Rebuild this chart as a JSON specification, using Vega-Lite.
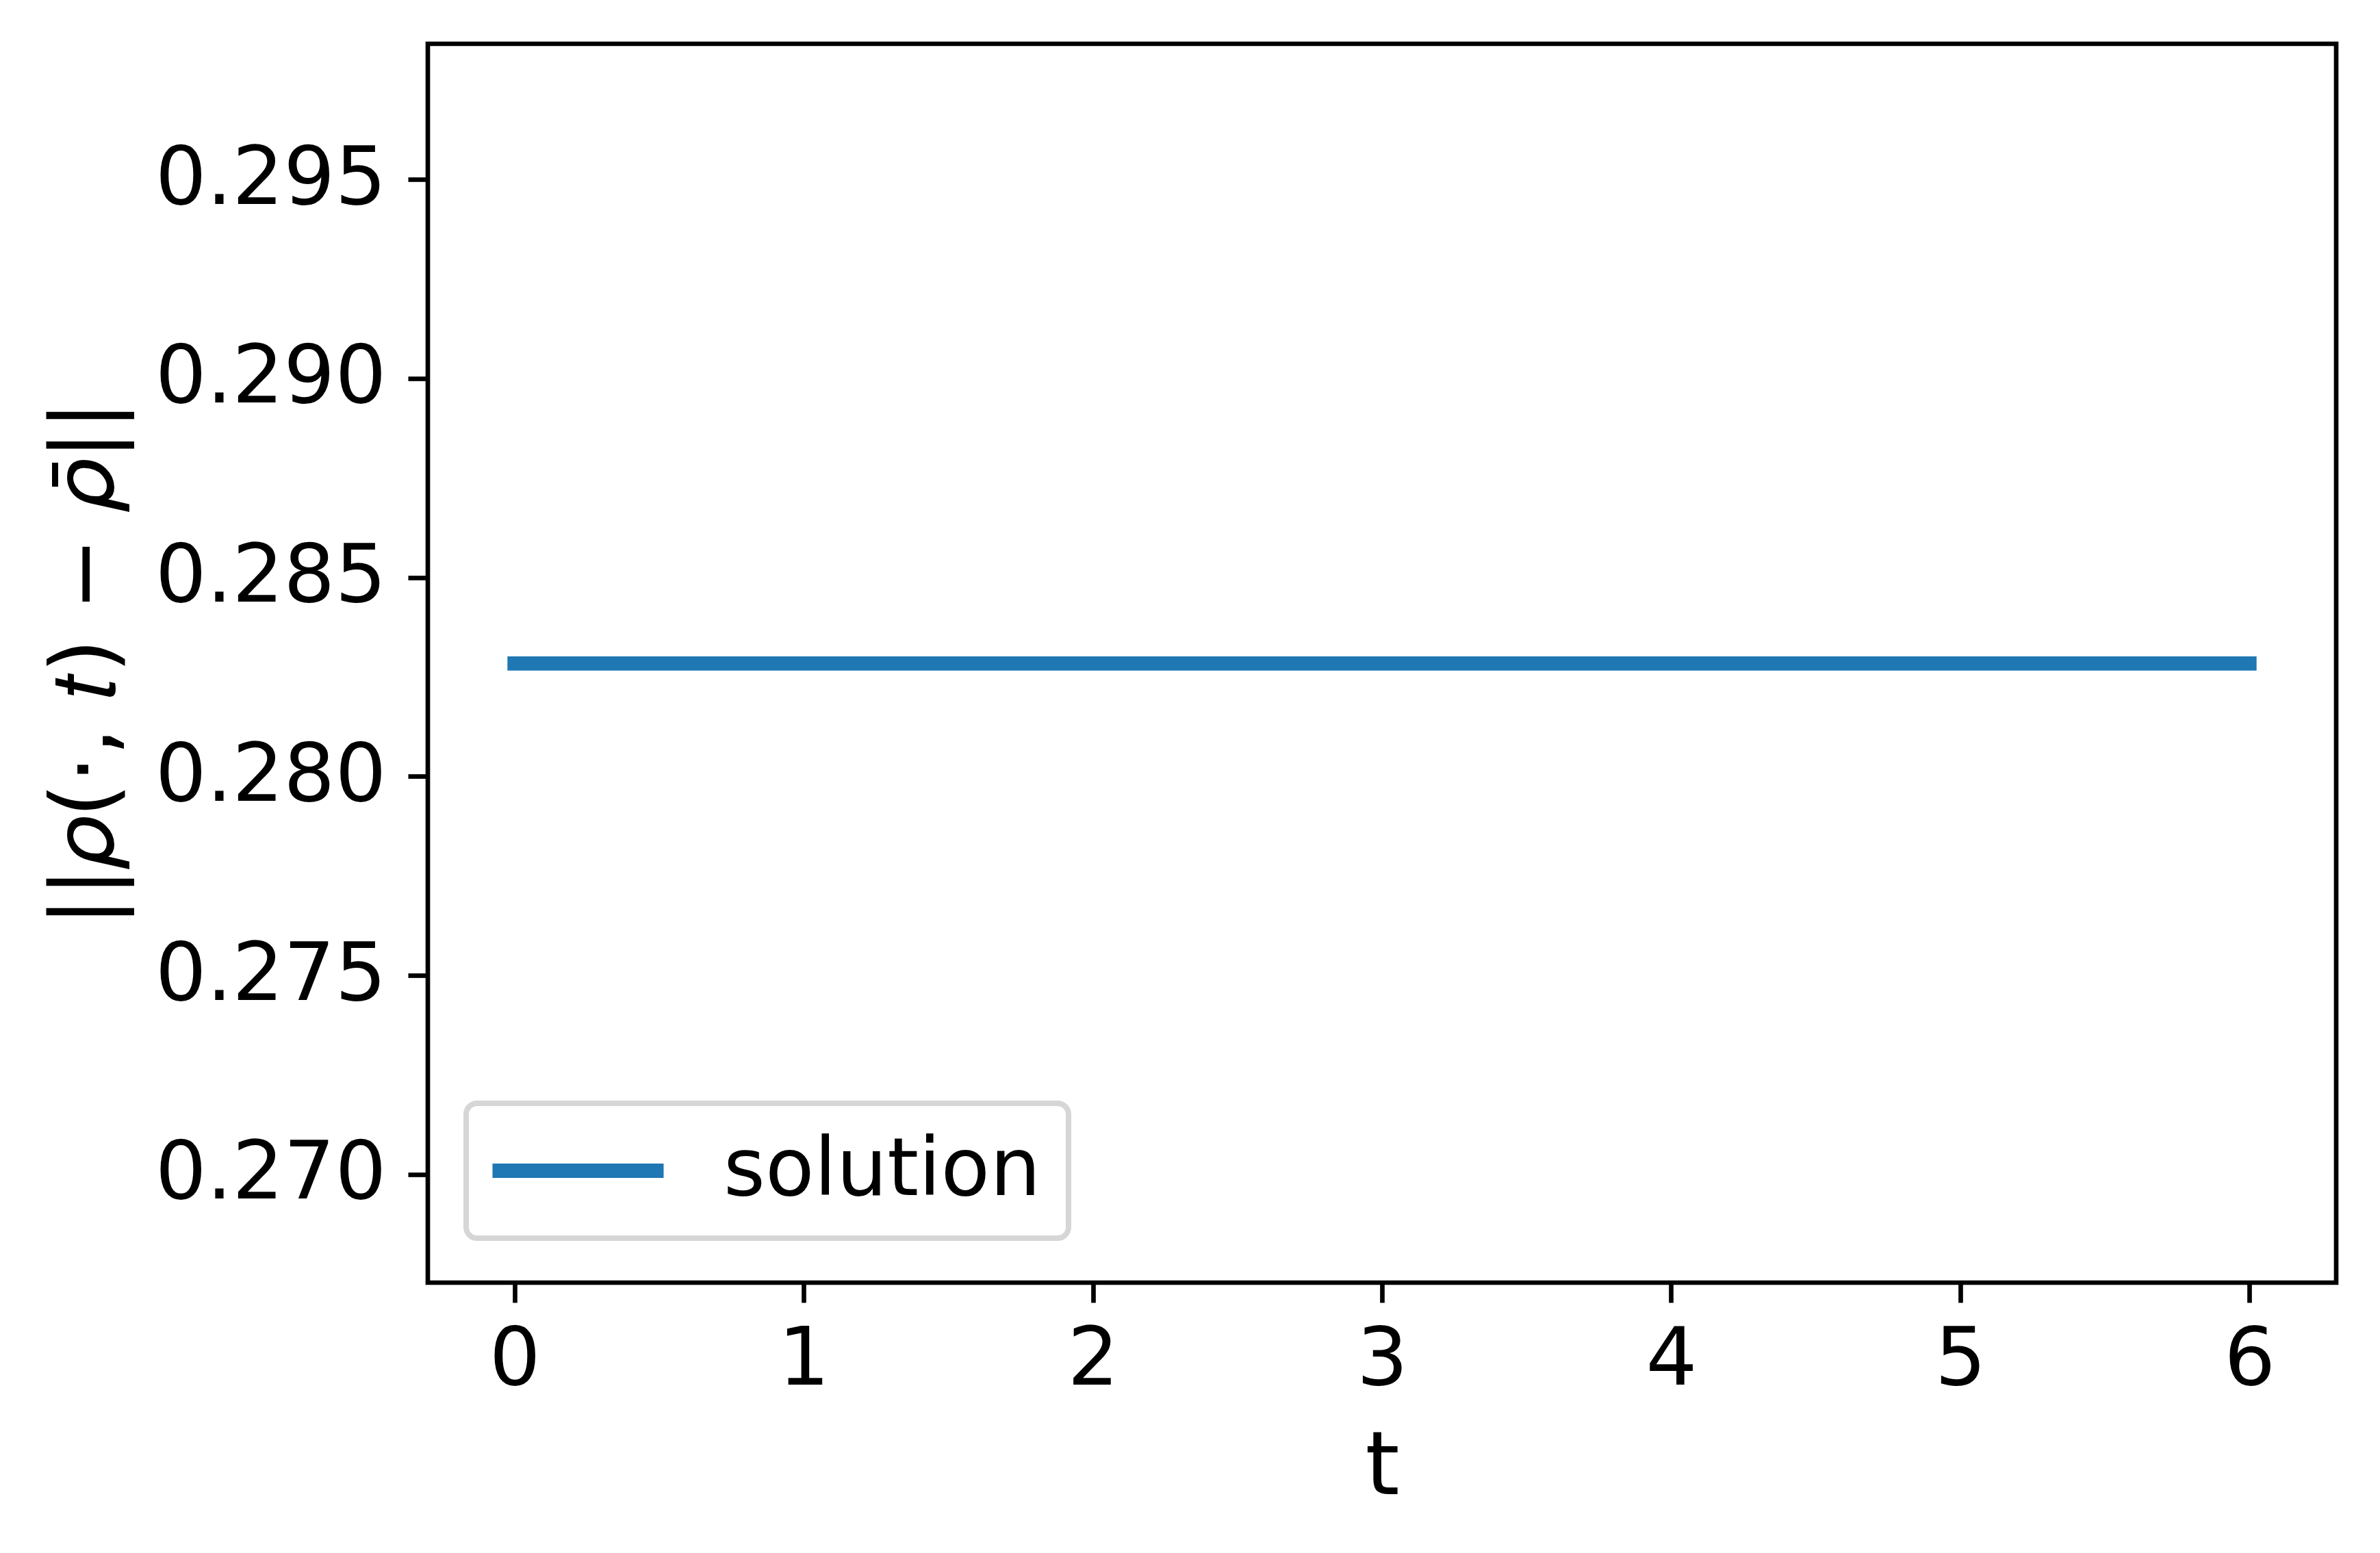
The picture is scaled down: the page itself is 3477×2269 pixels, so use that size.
{
  "$schema": "https://vega.github.io/schema/vega-lite/v6.json",
  "autosize": {"type": "none"},
  "width": 2788,
  "height": 1810,
  "padding": {"left": 625, "top": 64, "right": 64, "bottom": 395},
  "background": "white",
  "config": {
    "view": {"stroke": "black", "strokeWidth": 6.67},
    "font": "DejaVu Sans",
    "axis": {
      "domain": false,
      "grid": false,
      "tickColor": "black",
      "tickWidth": 6.67,
      "tickSize": 29,
      "labelFont": "DejaVu Sans",
      "labelFontSize": 118,
      "labelColor": "black",
      "labelLimit": 0,
      "titleFont": "DejaVu Sans",
      "titleFontSize": 128,
      "titleFontWeight": "normal",
      "titleColor": "black",
      "titleLimit": 0
    },
    "legend": {
      "padding": 40,
      "cornerRadius": 16,
      "strokeColor": "#d6d6d6",
      "strokeWidth": 8,
      "fillColor": "white",
      "labelFont": "DejaVu Sans",
      "labelFontSize": 117,
      "labelColor": "black",
      "labelLimit": 0,
      "labelOffset": 254,
      "symbolOffset": -35,
      "symbolStrokeWidth": 20.8
    }
  },
  "data": {
    "values": [
      {"t": 0, "norm": 0.28284, "series": "solution"},
      {"t": 0.5, "norm": 0.28284, "series": "solution"},
      {"t": 1, "norm": 0.28284, "series": "solution"},
      {"t": 1.5, "norm": 0.28284, "series": "solution"},
      {"t": 2, "norm": 0.28284, "series": "solution"},
      {"t": 2.5, "norm": 0.28284, "series": "solution"},
      {"t": 3, "norm": 0.28284, "series": "solution"},
      {"t": 3.5, "norm": 0.28284, "series": "solution"},
      {"t": 4, "norm": 0.28284, "series": "solution"},
      {"t": 4.5, "norm": 0.28284, "series": "solution"},
      {"t": 5, "norm": 0.28284, "series": "solution"},
      {"t": 5.5, "norm": 0.28284, "series": "solution"},
      {"t": 6, "norm": 0.28284, "series": "solution"}
    ]
  },
  "mark": {"type": "line", "strokeWidth": 20.8, "strokeCap": "square"},
  "encoding": {
    "x": {
      "field": "t",
      "type": "quantitative",
      "scale": {"domain": [-0.3, 6.3], "nice": false, "zero": false},
      "axis": {
        "title": "t",
        "values": [0, 1, 2, 3, 4, 5, 6],
        "format": "d",
        "labelPadding": 26,
        "titleY": 308,
        "titleBaseline": "alphabetic"
      }
    },
    "y": {
      "field": "norm",
      "type": "quantitative",
      "scale": {"domain": [0.26728, 0.29841], "nice": false, "zero": false},
      "axis": {
        "title": "||𝜌(·, 𝑡) − 𝜌̄||",
        "values": [0.270, 0.275, 0.280, 0.285, 0.290, 0.295],
        "format": ".3f",
        "labelPadding": 32,
        "titleAngle": 270,
        "titleBaseline": "alphabetic",
        "titleAlign": "center",
        "titleX": -460,
        "titleY": 905
      }
    },
    "color": {
      "field": "series",
      "type": "nominal",
      "scale": {"domain": ["solution"], "range": ["#1f77b4"]},
      "legend": {
        "title": null,
        "orient": "none",
        "legendX": 56,
        "legendY": 1548,
        "symbolType": "M-1,0H9",
        "symbolSize": 2500
      }
    }
  }
}
